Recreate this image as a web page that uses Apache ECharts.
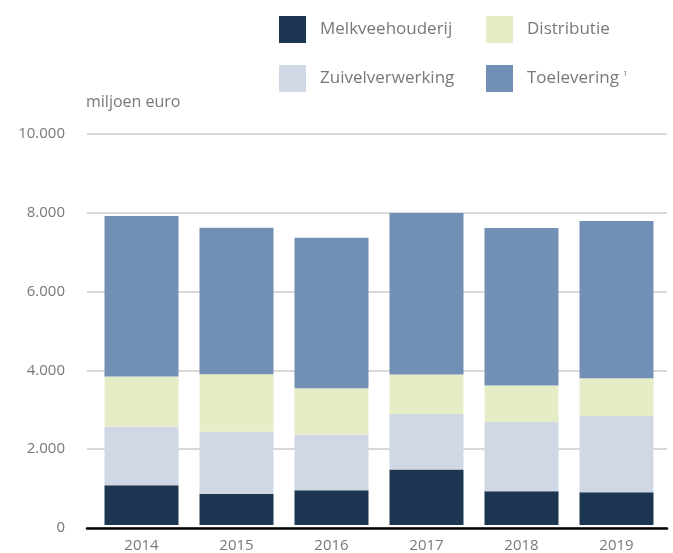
<!DOCTYPE html>
<html>
<head>
<meta charset="utf-8">
<script src="https://cdn.jsdelivr.net/npm/echarts@6/dist/echarts.min.js"></script>
<style>
  html, body { margin: 0; padding: 0; background: #fff; }
  #chart { width: 673px; height: 553px; }
</style>
</head>
<body>
<div id="chart"></div>
<script>
const years = ['2014', '2015', '2016', '2017', '2018', '2019'];
const melkveehouderij = [1015, 790, 890, 1420, 860, 840];
const zuivelverwerking = [1495, 1595, 1417, 1418, 1773, 1949];
const distributie = [1290, 1469, 1190, 1013, 936, 962];
const toelevering = [4101, 3747, 3848, 4126, 4026, 4026];
const yTicks = [0, 2000, 4000, 6000, 8000, 10000];

const font = 'Open Sans';
const grey = '#787878';
const colors = {
  melk: '#1c3652',
  zuivel: '#d0d8e5',
  distr: '#e5edc6',
  toel: '#728fb6'
};

function fmt(v) {
  return String(v).replace(/\B(?=(\d{3})+(?!\d))/g, '.');
}

const chart = echarts.init(document.getElementById('chart'));

function legendAt(name, left, top, formatter) {
  return {
    data: [name],
    left: left,
    top: top,
    itemWidth: 27,
    itemHeight: 27,
    itemGap: 0,
    selectedMode: false,
    icon: 'rect',
    formatter: formatter,
    textStyle: {
      color: grey,
      fontFamily: font,
      fontSize: 17,
      padding: [0, 0, 0, 9],
      rich: {
        sup: { fontSize: 8, color: grey, fontFamily: font, verticalAlign: 'top', padding: [0, 0, 10, 4] }
      }
    }
  };
}

const option = {
  backgroundColor: '#fff',
  animation: false,
  legend: [
    legendAt('Melkveehouderij', 274, 11),
    legendAt('Distributie', 481, 11),
    legendAt('Zuivelverwerking', 274, 60),
    legendAt('Toelevering', 481, 60, n => n + '{sup|1}')
  ],
  grid: [
    { left: 87, right: 6, top: 134, bottom: 25 },
    { left: 94, right: 9, top: 134, bottom: 25 }
  ],
  xAxis: [
    {
      type: 'category',
      gridIndex: 0,
      data: years,
      axisLine: { lineStyle: { color: '#000', width: 2.5 } },
      axisTick: { show: false },
      axisLabel: { show: false }
    },
    {
      type: 'category',
      gridIndex: 1,
      data: years,
      axisLine: { show: false },
      axisTick: { show: false },
      axisLabel: { color: grey, fontFamily: font, fontSize: 15, margin: 13 }
    }
  ],
  yAxis: [
    {
      type: 'value',
      gridIndex: 0,
      min: 0,
      max: 10000,
      interval: 2000,
      name: 'miljoen euro',
      nameLocation: 'end',
      nameGap: 32,
      nameTextStyle: { color: grey, fontFamily: font, fontSize: 16, align: 'left', verticalAlign: 'middle', padding: [0, 0, 0, -1] },
      axisLine: { show: false },
      axisTick: { show: false },
      axisLabel: { color: grey, fontFamily: font, fontSize: 15, margin: 22, formatter: v => yTicks.includes(v) ? fmt(v) : '' },
      splitLine: { lineStyle: { color: '#cccccc', width: 1.5 } }
    },
    {
      type: 'value',
      gridIndex: 1,
      min: 0,
      max: 10000,
      interval: 2000,
      axisLine: { show: false },
      axisTick: { show: false },
      axisLabel: { show: false },
      splitLine: { show: false }
    }
  ],
  series: [
    { name: 'Melkveehouderij', data: melkveehouderij, color: colors.melk },
    { name: 'Zuivelverwerking', data: zuivelverwerking, color: colors.zuivel },
    { name: 'Distributie', data: distributie, color: colors.distr },
    { name: 'Toelevering', data: toelevering, color: colors.toel }
  ].map(s => ({
    name: s.name,
    type: 'bar',
    stack: 'totaal',
    xAxisIndex: 1,
    yAxisIndex: 1,
    barWidth: 74,
    data: s.data,
    itemStyle: { color: s.color },
    z: 1
  }))
};

chart.setOption(option);
</script>
</body>
</html>
